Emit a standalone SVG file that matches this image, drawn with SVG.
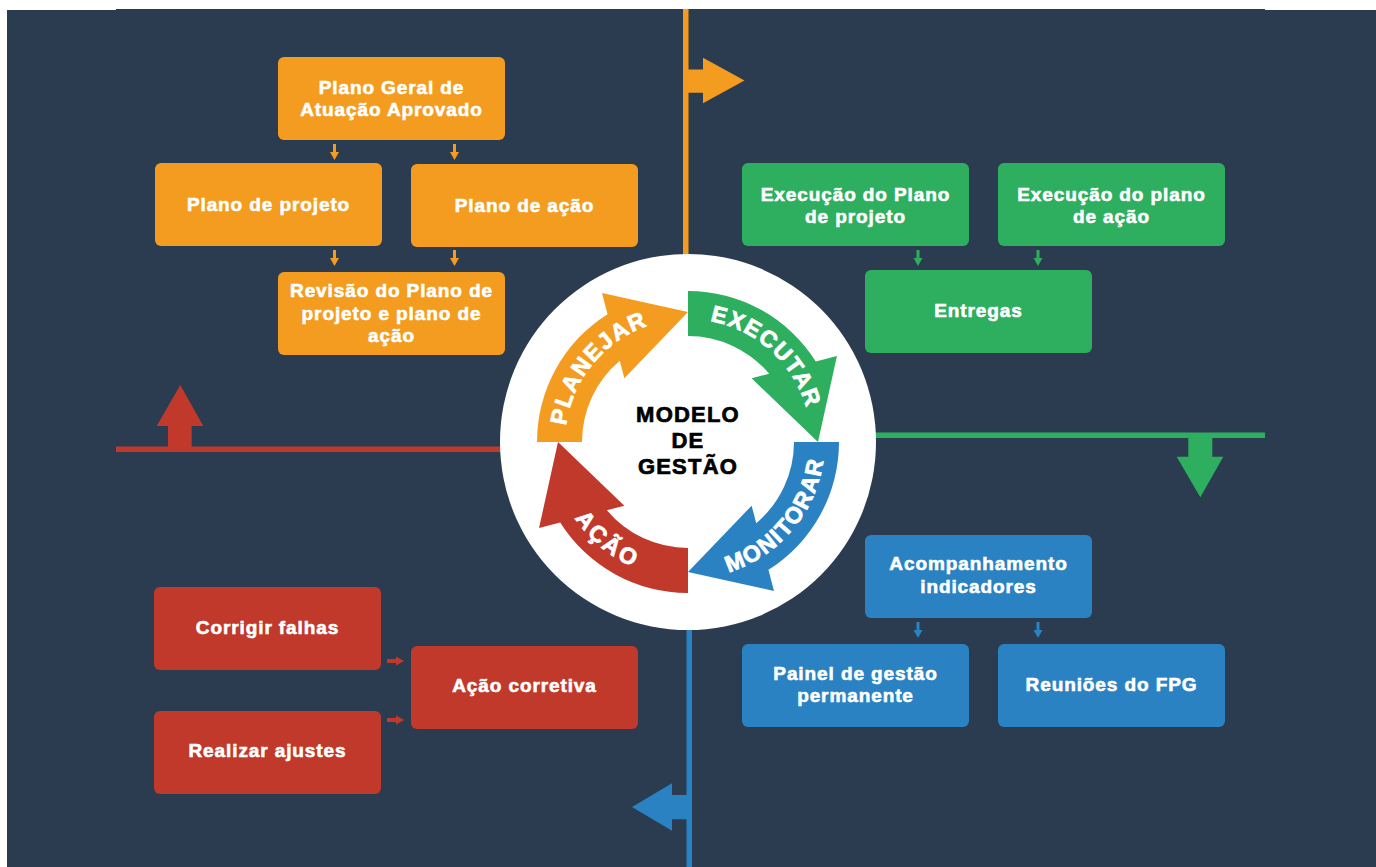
<svg xmlns="http://www.w3.org/2000/svg" width="1376" height="867" viewBox="0 0 1376 867">
<style>
.o{fill:#F39C1F}.g{fill:#2EAE5F}.b{fill:#2A82C2}.r{fill:#C0392B}
.bt{font-family:"Liberation Sans",Arial,sans-serif;font-weight:bold;font-size:19px;letter-spacing:0.9px;fill:#fff;stroke:#fff;stroke-width:0.6px;text-anchor:middle}
.at{font-family:"Liberation Sans",Arial,sans-serif;font-weight:bold;font-size:23px;letter-spacing:1.6px;fill:#fff;stroke:#fff;stroke-width:0.8px;text-anchor:middle}
.ct{font-family:"Liberation Sans",Arial,sans-serif;font-weight:bold;font-size:22px;letter-spacing:1.2px;fill:#000;stroke:#000;stroke-width:0.7px;text-anchor:middle}
</style>
<defs>
<path id="arr" d="M537,442 A151,151 0 0 1 607.55,314.2 L602,293.04 L688,312 L624.36,378.36 L619.78,360.87 A106,106 0 0 0 582,442 Z"/>
<path id="va" d="M-1.5,0 H1.5 V8 H4.5 L0,16 L-4.5,8 H-1.5 Z"/>
<path id="ha" d="M0,-2 H9 V-4.5 L17,0 L9,4.5 V2 H0 Z"/>
<path id="tp1" d="M582.02,504.43 A123,123 0 0 1 729.06,326.06"/>
<path id="tp2" d="M631.01,333 A123,123 0 0 1 801.72,488.87"/>
<path id="tp3" d="M641.31,570.27 A136.5,136.5 0 0 0 806.21,373.75"/>
<path id="tp4" d="M559.25,396.66 A136.5,136.5 0 0 0 757.48,559.49"/>
</defs>
<rect x="0" y="0" width="1376" height="867" fill="#fff"/>
<rect x="7" y="10" width="1369" height="857" fill="#2B3C50"/>
<rect x="116" y="9" width="1149" height="1" fill="#2B3C50"/>

<g id="connectors">
  <rect class="o" x="683" y="9" width="5.5" height="300"/>
  <polygon class="o" points="686,69.5 703,69.5 703,57.7 744.5,80.5 703,103.3 703,92.7 686,92.7"/>
  <rect class="r" x="116" y="446.5" width="420" height="5.5"/>
  <polygon class="r" points="168,447 168,426 156.7,426 180.3,385 203.3,426 191.7,426 191.7,447"/>
  <rect class="g" x="840" y="432.5" width="425" height="5.5"/>
  <polygon class="g" points="1188.3,437 1188.3,456.7 1176.7,456.7 1200.3,497.3 1223.3,456.7 1212.3,456.7 1212.3,437"/>
  <rect class="b" x="686.5" y="580" width="5.5" height="287"/>
  <polygon class="b" points="687,795 672,795 672,783.3 632,807 672,830.7 672,819.3 687,819.3"/>
  <use href="#va" class="o" x="334.5" y="144"/>
  <use href="#va" class="o" x="454.5" y="144"/>
  <use href="#va" class="o" x="334.5" y="250"/>
  <use href="#va" class="o" x="454.5" y="250"/>
  <use href="#va" class="g" x="918" y="250"/>
  <use href="#va" class="g" x="1038" y="250"/>
  <use href="#va" class="b" x="918" y="622"/>
  <use href="#va" class="b" x="1038" y="622"/>
  <use href="#ha" class="r" x="387" y="661"/>
  <use href="#ha" class="r" x="387" y="720"/>
</g>

<g id="cycle">
  <circle cx="688" cy="442" r="188" fill="#fff"/>
  <use href="#arr" class="o"/>
  <use href="#arr" class="g" transform="rotate(90 688 442)"/>
  <use href="#arr" class="b" transform="rotate(180 688 442)"/>
  <use href="#arr" class="r" transform="rotate(270 688 442)"/>
  <text class="at"><textPath href="#tp1" startOffset="50%">PLANEJAR</textPath></text>
  <text class="at"><textPath href="#tp2" startOffset="50%">EXECUTAR</textPath></text>
  <text class="at"><textPath href="#tp3" startOffset="50%">MONITORAR</textPath></text>
  <text class="at" style="letter-spacing:3px"><textPath href="#tp4" startOffset="50%">AÇÃO</textPath></text>
  <text class="ct" x="688" y="422">MODELO</text>
  <text class="ct" x="688" y="448">DE</text>
  <text class="ct" x="688" y="474">GESTÃO</text>
</g>

<g id="n-plano-geral"><rect class="o" x="278" y="57" width="227" height="83" rx="6"/><text class="bt" x="391.5" y="93.5">Plano Geral de</text><text class="bt" x="391.5" y="116">Atuação Aprovado</text></g>
<g id="n-plano-projeto"><rect class="o" x="155" y="163" width="227" height="83" rx="6"/><text class="bt" x="268.5" y="211">Plano de projeto</text></g>
<g id="n-plano-acao"><rect class="o" x="411" y="164" width="227" height="83" rx="6"/><text class="bt" x="524.5" y="211.5">Plano de ação</text></g>
<g id="n-revisao"><rect class="o" x="278" y="272" width="227" height="83" rx="6"/><text class="bt" x="391.5" y="297">Revisão do Plano de</text><text class="bt" x="391.5" y="319.5">projeto e plano de</text><text class="bt" x="391.5" y="342">ação</text></g>

<g id="n-exec-projeto"><rect class="g" x="742" y="163" width="227" height="83" rx="6"/><text class="bt" x="855.5" y="201">Execução do Plano</text><text class="bt" x="855.5" y="223">de projeto</text></g>
<g id="n-exec-acao"><rect class="g" x="998" y="163" width="227" height="83" rx="6"/><text class="bt" x="1111.5" y="201">Execução do plano</text><text class="bt" x="1111.5" y="223">de ação</text></g>
<g id="n-entregas"><rect class="g" x="865" y="270" width="227" height="83" rx="6"/><text class="bt" x="978.5" y="317">Entregas</text></g>

<g id="n-acompanhamento"><rect class="b" x="865" y="535" width="227" height="83" rx="6"/><text class="bt" x="978.5" y="570">Acompanhamento</text><text class="bt" x="978.5" y="592.5">indicadores</text></g>
<g id="n-painel"><rect class="b" x="742" y="644" width="227" height="83" rx="6"/><text class="bt" x="855.5" y="680">Painel de gestão</text><text class="bt" x="855.5" y="702">permanente</text></g>
<g id="n-reunioes"><rect class="b" x="998" y="644" width="227" height="83" rx="6"/><text class="bt" x="1111.5" y="691">Reuniões do FPG</text></g>

<g id="n-corrigir"><rect class="r" x="154" y="587" width="227" height="83" rx="6"/><text class="bt" x="267.5" y="634">Corrigir falhas</text></g>
<g id="n-realizar"><rect class="r" x="154" y="711" width="227" height="83" rx="6"/><text class="bt" x="267.5" y="757">Realizar ajustes</text></g>
<g id="n-acao-corretiva"><rect class="r" x="411" y="646" width="227" height="83" rx="6"/><text class="bt" x="524.5" y="692">Ação corretiva</text></g>
</svg>
